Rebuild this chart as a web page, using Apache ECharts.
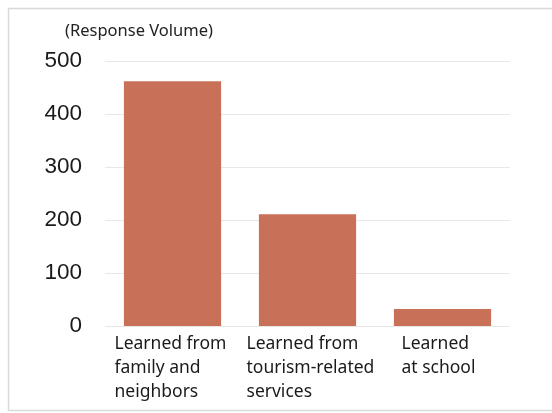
<!DOCTYPE html>
<html>
<head>
<meta charset="utf-8">
<script src="https://cdn.jsdelivr.net/npm/echarts@6/dist/echarts.min.js"></script>
<style>html,body{margin:0;padding:0;background:#fff}#c{width:552px;height:413px}</style>
</head>
<body>
<div id="c"></div>
<script>
var categories = ["Learned from\nfamily and\nneighbors", "Learned from\ntourism-related\nservices", "Learned\nat school"];
var values = [462, 211, 32];
var yTicks = [0, 100, 200, 300, 400, 500];
var unitLabel = "(Response Volume)";

var chart = echarts.init(document.getElementById('c'), null, {renderer: 'canvas'});
var blockWidths = [116, 122, 82];
var labelStyle = function (w) {
  return {width: w, align: 'left', fontSize: 17.5, lineHeight: 24, fontFamily: 'Noto Sans', color: '#1a1a1a'};
};
chart.setOption({
  animation: false,
  backgroundColor: '#fff',
  graphic: [
    {type: 'rect', shape: {x: 8.5, y: 8.5, width: 560, height: 402}, style: {fill: 'none', stroke: '#d9d9d9', lineWidth: 1.5}, silent: true},
    {type: 'text', left: 65, top: 23, style: {text: unitLabel, font: '16.5px "Noto Sans"', fill: '#222'}}
  ],
  grid: {left: 105, right: 42, top: 61, bottom: 87},
  xAxis: {
    type: 'category',
    data: categories,
    axisLine: {show: false},
    axisTick: {show: false},
    axisLabel: {
      margin: 6,
      interval: 0,
      formatter: function (v, i) {
        return v.split('\n').map(function (s) { return '{w' + i + '|' + s + '}'; }).join('\n');
      },
      rich: {
        w0: labelStyle(blockWidths[0]),
        w1: labelStyle(blockWidths[1]),
        w2: labelStyle(blockWidths[2])
      }
    }
  },
  yAxis: {
    type: 'value',
    min: yTicks[0],
    max: yTicks[yTicks.length - 1],
    interval: 100,
    axisLine: {show: false},
    axisTick: {show: false},
    axisLabel: {margin: 23, fontSize: 22.5, fontFamily: 'Liberation Sans', color: '#1a1a1a'},
    splitLine: {lineStyle: {color: '#e8e8e8', width: 1}}
  },
  series: [{
    type: 'bar',
    data: values,
    barCategoryGap: '28%',
    itemStyle: {color: '#C97058'}
  }]
});
</script>
</body>
</html>
